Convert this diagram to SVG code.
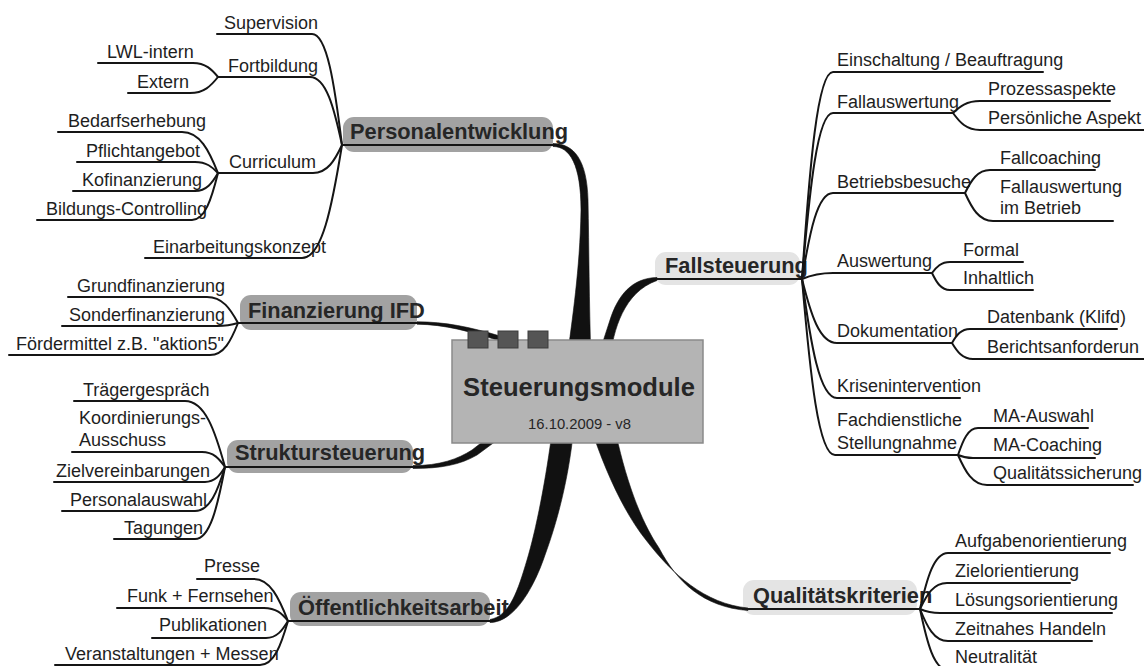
<svg xmlns="http://www.w3.org/2000/svg" width="1144" height="666" viewBox="0 0 1144 666">
<style>
.t{font-family:"Liberation Sans",Arial,sans-serif;font-size:18px;fill:#1e1e1e}
.h{font-family:"Liberation Sans",Arial,sans-serif;font-size:21.8px;font-weight:bold;fill:#262626}
.ln{fill:none;stroke:#151515;stroke-width:2;stroke-linecap:round;stroke-linejoin:round}
.br{fill:#111;stroke:#111;stroke-width:0.6;stroke-linejoin:round}
.pd{fill:#a2a2a2}
.pl{fill:#e4e4e4}
.sq{fill:#555;stroke:#3c3c3c;stroke-width:1}
</style>
<rect width="1144" height="666" fill="#fff"/>

<g id="node-personalentwicklung">
<rect class="pd" x="343" y="117" width="210" height="35" rx="11"/>
<text class="h" x="350" y="139">Personalentwicklung</text>
</g>
<g id="node-finanzierung">
<rect class="pd" x="240" y="295" width="177" height="35" rx="11"/>
<text class="h" x="248" y="318">Finanzierung IFD</text>
</g>
<g id="node-struktursteuerung">
<rect class="pd" x="227" y="440" width="186" height="33" rx="11"/>
<text class="h" x="235" y="460">Struktursteuerung</text>
</g>
<g id="node-oeffentlichkeitsarbeit">
<rect class="pd" x="290" y="592" width="200" height="34" rx="11"/>
<text class="h" x="298" y="615">Öffentlichkeitsarbeit</text>
</g>
<g id="node-fallsteuerung">
<rect class="pl" x="655" y="252" width="145" height="33" rx="11"/>
<text class="h" x="665" y="273">Fallsteuerung</text>
</g>
<g id="node-qualitaetskriterien">
<rect class="pl" x="743" y="580" width="174" height="35" rx="11"/>
<text class="h" x="753" y="603">Qualitätskriterien</text>
</g>

<g id="leaves">
<g id="n-supervision"><text class="t" x="224" y="29">Supervision</text></g>
<g id="n-fortbildung"><text class="t" x="228" y="72">Fortbildung</text></g>
<g id="n-lwl"><text class="t" x="107" y="58">LWL-intern</text></g>
<g id="n-extern"><text class="t" x="137" y="88">Extern</text></g>
<g id="n-curriculum"><text class="t" x="229" y="168">Curriculum</text></g>
<g id="n-bedarf"><text class="t" x="68" y="127">Bedarfserhebung</text></g>
<g id="n-pflicht"><text class="t" x="86" y="157">Pflichtangebot</text></g>
<g id="n-kofin"><text class="t" x="82" y="186">Kofinanzierung</text></g>
<g id="n-bildung"><text class="t" x="46" y="215">Bildungs-Controlling</text></g>
<g id="n-einarb"><text class="t" x="153" y="253">Einarbeitungskonzept</text></g>
<g id="n-grund"><text class="t" x="77" y="292">Grundfinanzierung</text></g>
<g id="n-sonder"><text class="t" x="69" y="321">Sonderfinanzierung</text></g>
<g id="n-foerder"><text class="t" x="16" y="350">Fördermittel z.B. "aktion5"</text></g>
<g id="n-traeger"><text class="t" x="83" y="396">Trägergespräch</text></g>
<g id="n-koord"><text class="t" x="79" y="424">Koordinierungs-</text><text class="t" x="79" y="446">Ausschuss</text></g>
<g id="n-ziel"><text class="t" x="56" y="477">Zielvereinbarungen</text></g>
<g id="n-personal"><text class="t" x="70" y="506">Personalauswahl</text></g>
<g id="n-tagungen"><text class="t" x="124" y="534">Tagungen</text></g>
<g id="n-presse"><text class="t" x="204" y="572">Presse</text></g>
<g id="n-funk"><text class="t" x="127" y="602">Funk + Fernsehen</text></g>
<g id="n-publ"><text class="t" x="159" y="631">Publikationen</text></g>
<g id="n-veranst"><text class="t" x="65" y="660">Veranstaltungen + Messen</text></g>

<g id="n-einschaltung"><text class="t" x="837" y="66">Einschaltung / Beauftragung</text></g>
<g id="n-fallausw"><text class="t" x="837" y="108">Fallauswertung</text></g>
<g id="n-prozess"><text class="t" x="988" y="95">Prozessaspekte</text></g>
<g id="n-persoenlich"><text class="t" x="988" y="124">Persönliche Aspekt</text></g>
<g id="n-betrieb"><text class="t" x="837" y="188">Betriebsbesuche</text></g>
<g id="n-fallcoach"><text class="t" x="1000" y="164">Fallcoaching</text></g>
<g id="n-fallausw2"><text class="t" x="1000" y="193">Fallauswertung</text><text class="t" x="1000" y="214">im Betrieb</text></g>
<g id="n-auswertung"><text class="t" x="837" y="267">Auswertung</text></g>
<g id="n-formal"><text class="t" x="963" y="256">Formal</text></g>
<g id="n-inhalt"><text class="t" x="963" y="284">Inhaltlich</text></g>
<g id="n-doku"><text class="t" x="837" y="337">Dokumentation</text></g>
<g id="n-datenbank"><text class="t" x="987" y="323">Datenbank (Klifd)</text></g>
<g id="n-bericht"><text class="t" x="987" y="353">Berichtsanforderun</text></g>
<g id="n-krise"><text class="t" x="837" y="392">Krisenintervention</text></g>
<g id="n-fach"><text class="t" x="837" y="426">Fachdienstliche</text><text class="t" x="837" y="449">Stellungnahme</text></g>
<g id="n-maausw"><text class="t" x="993" y="422">MA-Auswahl</text></g>
<g id="n-macoach"><text class="t" x="993" y="451">MA-Coaching</text></g>
<g id="n-qsich"><text class="t" x="993" y="479">Qualitätssicherung</text></g>
<g id="n-aufgabe"><text class="t" x="955" y="547">Aufgabenorientierung</text></g>
<g id="n-zielor"><text class="t" x="955" y="577">Zielorientierung</text></g>
<g id="n-loesung"><text class="t" x="955" y="606">Lösungsorientierung</text></g>
<g id="n-zeitnah"><text class="t" x="955" y="635">Zeitnahes Handeln</text></g>
<g id="n-neutral"><text class="t" x="955" y="663">Neutralität</text></g>
</g>

<g id="connectors">
<g id="branches">
<path class="br" d="M553,143.5 C574,143.5 587,160 588,200 C589,250 589,300 591,360 L567,360 C572,320 580,270 581,210 C581,165 570,146.5 553,146.5 Z"/>
<path class="br" d="M657,277.5 C632,278 618,295 610,320 L597,360 L610,360 C613,330 624,292 657,280.5 Z"/>
<path class="br" d="M417,321.8 C445,321.8 470,327 500,336 L500,341 C470,331.5 445,324.5 417,324.2 Z"/>
<path class="br" d="M413,465.6 C440,465.6 458,459 472,450 L490,436 L496,441 L477,455 C460,465 440,468.6 413,468.4 Z"/>
<path class="br" d="M490,619.5 C510,616 518,590 527,560 C536,530 546,480 553,425 L574,425 C569,480 556,525 545,555 C535,585 515,622.5 490,622.5 Z"/>
<path class="br" d="M748,608 C705,604 672,574 646,540 C622,510 603,465 590,425 L614,425 C625,478 640,520 659,548 C677,582 703,607 748,610.5 Z"/>
</g>
<g id="lines">
<path class="ln" d="M342,145 H553"/>
<path class="ln" d="M238,323 H417"/>
<path class="ln" d="M225,467 H413"/>
<path class="ln" d="M288,621 H490"/>
<path class="ln" d="M657,279 H802"/>
<path class="ln" d="M743,609 H920"/>

<path class="ln" d="M217,34 H312 C327,34 334.5,84 342,145"/>
<path class="ln" d="M218,77 H310 C326,77 334,107.6 342,145"/>
<path class="ln" d="M218,173 H313 C327.5,173 334.75,160.4 342,145"/>
<path class="ln" d="M145,258 H302 C322,258 332,207 342,145"/>
<path class="ln" d="M98,63 H193 C205.5,63 211.75,69.3 218,77"/>
<path class="ln" d="M128,93 H190 C204,93 211,85.8 218,77"/>
<path class="ln" d="M58,132 H182 C200,132 209,150.5 218,173"/>
<path class="ln" d="M77,162 H195 C206.5,162 212.25,167 218,173"/>
<path class="ln" d="M73,191 H195 C206.5,191 212.25,182.9 218,173"/>
<path class="ln" d="M37,220 H192 C205,220 211.5,198.85 218,173"/>

<path class="ln" d="M68,297 H207 C222.5,297 230.25,308.7 238,323"/>
<path class="ln" d="M62,326 H217 C227.5,326 232.75,324.65 238,323"/>
<path class="ln" d="M9,355 H210 C224,355 231,340.6 238,323"/>

<path class="ln" d="M74,401 H185 C205,401 215,430.7 225,467"/>
<path class="ln" d="M72,452 H202 C213.5,452 219.25,458.75 225,467"/>
<path class="ln" d="M54,482 H205 C215,482 220,475.25 225,467"/>
<path class="ln" d="M62,511 H195 C210,511 217.5,491.2 225,467"/>
<path class="ln" d="M114,539 H195 C210,539 217.5,506.6 225,467"/>

<path class="ln" d="M197,579 H254 C270,579 279,598 288,621"/>
<path class="ln" d="M117,608 H264 C276,608 282,613.5 288,621"/>
<path class="ln" d="M152,638 H266 C277,638 282.5,630 288,621"/>
<path class="ln" d="M55,665 H260 C274,665 281,645.2 288,621"/>

<path class="ln" d="M1043,72 H833 C817.5,72 809.75,165 802,279"/>
<path class="ln" d="M953,113 H833 C817.5,113 809.75,187.7 802,279"/>
<path class="ln" d="M965,193 H833 C817.5,193 809.75,231.7 802,279"/>
<path class="ln" d="M932,273 H833 C817.5,273 809.75,275.7 802,279"/>
<path class="ln" d="M952,343 H837 C819.5,343 810.75,314.2 802,279"/>
<path class="ln" d="M960,398 H837 C819.5,398 810.75,344.5 802,279"/>
<path class="ln" d="M958,455 H835 C818.5,455 810.25,375.8 802,279"/>

<path class="ln" d="M1110,101 H980 C966.5,101 959.75,106.4 953,113"/>
<path class="ln" d="M1144,130 H980 C966.5,130 959.75,122.35 953,113"/>
<path class="ln" d="M1095,170 H990 C977.5,170 971.25,180.35 965,193"/>
<path class="ln" d="M1113,221 H993 C979,221 972,208.4 965,193"/>
<path class="ln" d="M1023,262 H950 C941,262 936.5,267 932,273"/>
<path class="ln" d="M1033,290 H950 C941,290 936.5,282.35 932,273"/>
<path class="ln" d="M1117,329 H970 C961,329 956.5,335.3 952,343"/>
<path class="ln" d="M1144,359 H973 C962.5,359 957.25,351.8 952,343"/>
<path class="ln" d="M1088,428 H978 C968,428 963,440.15 958,455"/>
<path class="ln" d="M1095,458 H973 C965.5,458 961.75,456.65 958,455"/>
<path class="ln" d="M1133,485 H987 C972.5,485 965.25,471.5 958,455"/>

<path class="ln" d="M1110,553 H948 C934,553 927,578.2 920,609"/>
<path class="ln" d="M1070,583 H947 C933.5,583 926.75,594.7 920,609"/>
<path class="ln" d="M1112,613 H940 C930,613 925,611.2 920,609"/>
<path class="ln" d="M1092,641 H948 C934,641 927,626.6 920,609"/>
<path class="ln" d="M1040,670 H948 C934,670 927,642.55 920,609"/>
</g>
</g>

<g id="node-center">
<rect x="452" y="340" width="251" height="103" fill="#b4b4b4" stroke="#8a8a8a" stroke-width="1.5"/>
<rect class="sq" x="468" y="331" width="20" height="17"/>
<rect class="sq" x="498" y="331" width="20" height="17"/>
<rect class="sq" x="528" y="331" width="20" height="17"/>
<text x="579" y="396" text-anchor="middle" style="font-family:'Liberation Sans',Arial,sans-serif;font-size:25.6px;font-weight:bold;fill:#262626">Steuerungsmodule</text>
<text x="579.5" y="429" text-anchor="middle" style="font-family:'Liberation Sans',Arial,sans-serif;font-size:14.8px;fill:#262626">16.10.2009 - v8</text>
</g>
</svg>
